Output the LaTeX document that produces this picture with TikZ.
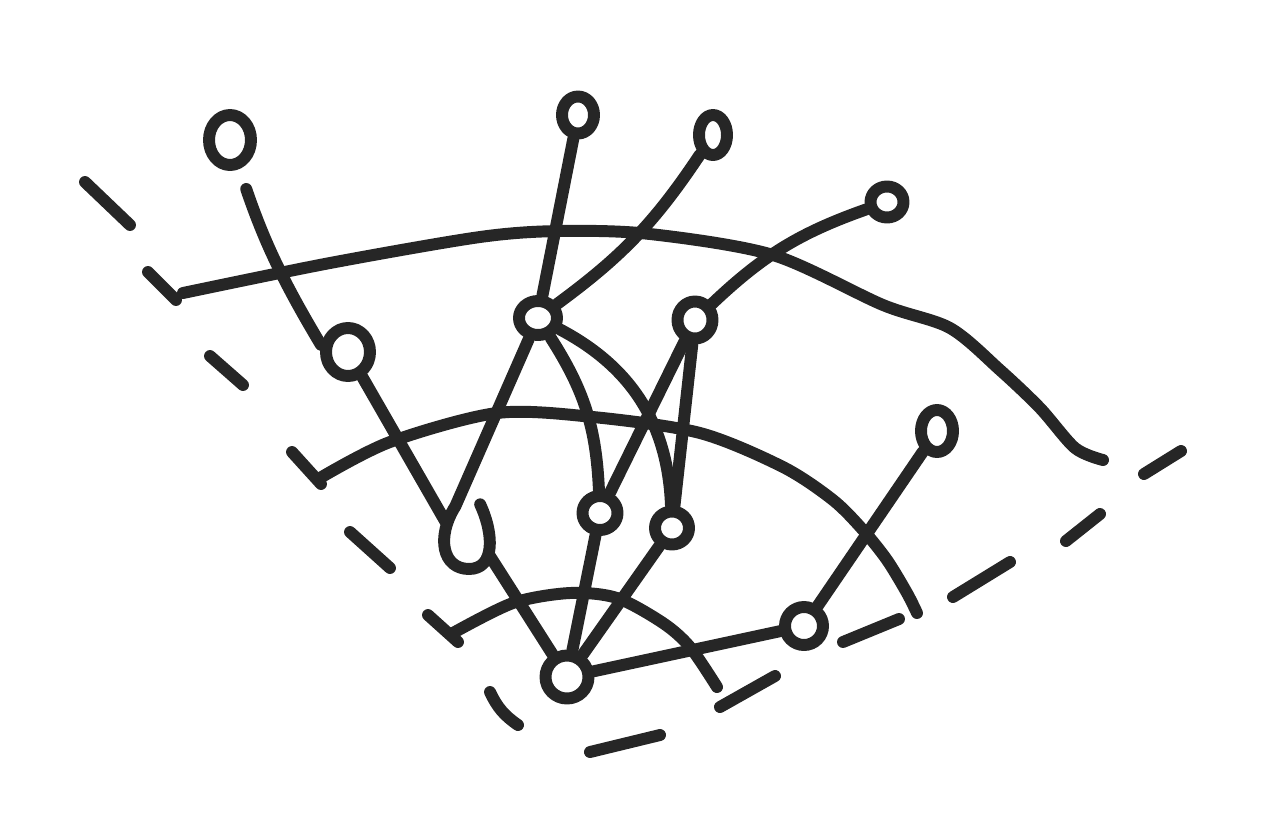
\documentclass[tikz,border=0pt]{standalone}
\usepackage{xcolor}
\usepackage{tikz}
\usetikzlibrary{shapes.geometric}
\definecolor{inkgray}{RGB}{38, 38, 38}

\begin{document}
\begin{tikzpicture}[line width=3.4pt, line cap=round, line join=round, draw=inkgray,
  vertex/.style={draw=inkgray, ellipse, inner sep=0pt}]
  \useasboundingbox (0,0) rectangle (12.64,-8.22);

  \node[vertex, minimum width=0.42cm, minimum height=0.50cm] (A) at (2.30,-1.40) {};
  \node[vertex, minimum width=0.32cm, minimum height=0.37cm] (B) at (5.78,-1.15) {};
  \node[vertex, minimum width=0.28cm, minimum height=0.40cm] (C) at (7.13,-1.35) {};
  \node[vertex, minimum width=0.33cm, minimum height=0.31cm] (D) at (8.87,-2.02) {};
  \node[vertex, minimum width=0.38cm, minimum height=0.34cm] (E) at (5.38,-3.18) {};
  \node[vertex, minimum width=0.35cm, minimum height=0.37cm] (F) at (6.95,-3.20) {};
  \node[vertex, minimum width=0.44cm, minimum height=0.48cm] (G) at (3.48,-3.52) {};
  \node[vertex, minimum width=0.32cm, minimum height=0.42cm] (H) at (9.37,-4.31) {};
  \node[ellipse, inner sep=0pt, minimum width=0.40cm, minimum height=0.56cm] (I) at (4.69,-5.35) {};
  \node[vertex, minimum width=0.35cm, minimum height=0.34cm] (J) at (6.00,-5.13) {};
  \node[vertex, minimum width=0.34cm, minimum height=0.33cm] (K) at (6.72,-5.28) {};
  \node[vertex, minimum width=0.38cm, minimum height=0.38cm] (L) at (8.04,-6.26) {};
  \node[vertex, minimum width=0.43cm, minimum height=0.43cm] (M) at (5.67,-6.77) {};

  \draw[shorten <=6pt] (A) to[bend right=6] (G.165);
  \draw (G) -- (I.150);
  \draw (E) -- (I.115) .. controls +(-0.20,-0.32) and +(-0.26,0) .. (I.south)
    .. controls +(0.26,0) and +(0.14,-0.30) .. (I.70);
  \draw (I.-45) -- (M);
  \draw (B) -- (E);
  \draw (C) to[bend left=10] (E);
  \draw (D) to[bend right=12] (F);
  \draw (E) to[bend left=15] (J);
  \draw (E) to[bend left=30] (K);
  \draw (F) -- (J);
  \draw (F) -- (K);
  \draw (J) -- (M);
  \draw (K) -- (M);
  \draw (M) -- (L);
  \draw (L) -- (H);

  \draw (1.48,-2.72) -- (1.76,-3.00);
  \draw plot[smooth] coordinates {(1.83,-2.93) (3.30,-2.63) (4.80,-2.37) (5.60,-2.31)
    (6.50,-2.34) (7.73,-2.55) (8.83,-3.05) (9.50,-3.28) (10.00,-3.70) (10.40,-4.08)
    (10.75,-4.48) (11.03,-4.60)};

  \draw (2.92,-4.52) -- (3.21,-4.84);
  \draw plot[smooth] coordinates {(3.20,-4.78) (3.90,-4.42) (4.97,-4.13) (5.93,-4.17)
    (7.00,-4.33) (7.83,-4.67) (8.33,-5.00) (8.63,-5.30) (8.87,-5.60) (9.07,-5.93) (9.17,-6.13)};

  \draw (4.28,-6.15) -- (4.58,-6.42);
  \draw plot[smooth] coordinates {(4.53,-6.33) (5.13,-6.03) (5.70,-5.93) (6.17,-5.98)
    (6.63,-6.23) (6.90,-6.47) (7.17,-6.87)};

  \draw (0.85,-1.82) -- (1.30,-2.25);
  \draw (2.10,-3.56) -- (2.43,-3.85);
  \draw (3.50,-5.32) -- (3.90,-5.68);
  \draw (4.90,-6.92) to[bend right=15] (5.18,-7.25);
  \draw (5.90,-7.52) -- (6.60,-7.35);
  \draw (7.20,-7.07) -- (7.75,-6.76);
  \draw (8.43,-6.42) -- (8.99,-6.19);
  \draw (9.53,-5.97) -- (10.10,-5.62);
  \draw (10.66,-5.41) -- (11.00,-5.14);
  \draw (11.44,-4.74) -- (11.81,-4.51);
\end{tikzpicture}
\end{document}
